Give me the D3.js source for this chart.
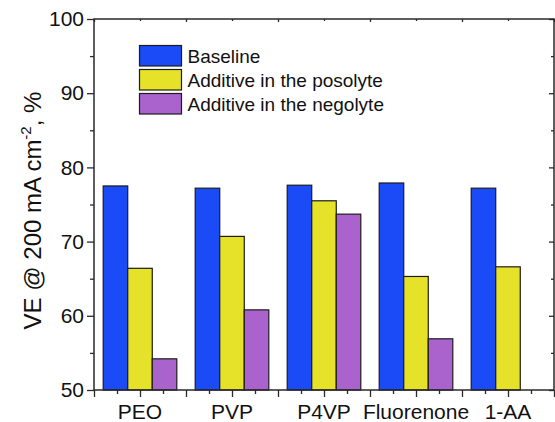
<!DOCTYPE html>
<html>
<head>
<meta charset="utf-8">
<script src="https://cdn.jsdelivr.net/npm/d3@7"></script>
<style>
  html, body { margin: 0; padding: 0; background: #fff; }
  svg { display: block; font-family: Arial, "Liberation Sans", sans-serif; }
</style>
</head>
<body>
<svg id="chart" width="555" height="422"></svg>
<script>
// Voltage efficiency at 200 mA cm-2 for each additive
const categories = ["PEO", "PVP", "P4VP", "Fluorenone", "1-AA"];
const seriesNames = ["Baseline", "Additive in the posolyte", "Additive in the negolyte"];
const baseline = [77.5, 77.2, 77.6, 77.9, 77.2];
const posolyte = [66.4, 70.7, 75.5, 65.3, 66.6];
const negolyte = [54.2, 60.8, 73.7, 56.9, null];
const yTicks = [50, 60, 70, 80, 90, 100];
const colors = ["#1a4bf6", "#e6e22a", "#aa63cc"];

const series = [baseline, posolyte, negolyte];

const svg = d3.select("#chart");
const plot = { left: 94, right: 554, top: 19, bottom: 390 };

const x = d3.scaleBand()
  .domain(categories)
  .range([plot.left, plot.right])
  .paddingInner(0.2)
  .paddingOuter(0.1);

const xs = d3.scaleBand()
  .domain(d3.range(series.length))
  .range([0, x.bandwidth()]);

// continuous position along the category axis, used for the tick marks
const xPos = d3.scaleLinear().domain([0.5, categories.length + 0.5]).range([plot.left, plot.right]);

const y = d3.scaleLinear().domain([50, 100]).range([plot.bottom, plot.top]);

// bars
const rows = [];
categories.forEach((c, i) => {
  series.forEach((s, j) => {
    if (s[i] != null) rows.push({ cat: c, k: j, v: s[i] });
  });
});

svg.append("g").selectAll("rect")
  .data(rows)
  .join("rect")
  .attr("x", d => x(d.cat) + xs(d.k))
  .attr("y", d => y(d.v))
  .attr("width", xs.bandwidth())
  .attr("height", d => y(50) - y(d.v))
  .attr("fill", d => colors[d.k])
  .attr("stroke", "#1c1c1c")
  .attr("stroke-width", 1.2);

const axisColor = "#2a2a2a";
function styleAxis(g) {
  g.select(".domain").remove();
  g.selectAll(".tick line").attr("stroke", axisColor).attr("stroke-width", 1.3);
}

// bottom axis: majors at half steps, minors between
const half = d3.range(0.5, categories.length + 0.51, 0.5);
const quarter = d3.range(0.75, categories.length + 0.5, 0.5);
svg.append("g").attr("transform", `translate(0,${plot.bottom})`)
  .call(d3.axisBottom(xPos).tickValues(half).tickSize(7).tickFormat(""))
  .call(styleAxis);
svg.append("g").attr("transform", `translate(0,${plot.bottom})`)
  .call(d3.axisBottom(xPos).tickValues(quarter).tickSize(4).tickFormat(""))
  .call(styleAxis);

// top axis: inward ticks
svg.append("g").attr("transform", `translate(0,${plot.top})`)
  .call(d3.axisTop(xPos).tickValues(half.filter(v => v % 1 !== 0)).tickSize(-3).tickFormat(""))
  .call(styleAxis);
svg.append("g").attr("transform", `translate(0,${plot.top})`)
  .call(d3.axisTop(xPos).tickValues(d3.range(1, categories.length + 1)).tickSize(-2).tickFormat(""))
  .call(styleAxis);

// category labels
svg.append("g").attr("transform", `translate(0,${plot.bottom})`)
  .call(d3.axisBottom(x).tickSize(0).tickPadding(14))
  .call(g => g.select(".domain").remove())
  .call(g => g.selectAll("text").attr("font-size", 21).attr("font-family", "Arial, 'Liberation Sans', sans-serif").attr("fill", "#111"));

// left axis
const yMinor = d3.range(55, 100, 10);
svg.append("g").attr("transform", `translate(${plot.left},0)`)
  .call(d3.axisLeft(y).tickValues(yTicks).tickSize(7).tickPadding(3))
  .call(styleAxis)
  .call(g => g.selectAll("text").attr("font-size", 21).attr("font-family", "Arial, 'Liberation Sans', sans-serif").attr("fill", "#111"));
svg.append("g").attr("transform", `translate(${plot.left},0)`)
  .call(d3.axisLeft(y).tickValues(yMinor).tickSize(4).tickFormat(""))
  .call(styleAxis);

// right axis: inward ticks
svg.append("g").attr("transform", `translate(${plot.right},0)`)
  .call(d3.axisRight(y).tickValues(yTicks).tickSize(-5).tickFormat(""))
  .call(styleAxis);
svg.append("g").attr("transform", `translate(${plot.right},0)`)
  .call(d3.axisRight(y).tickValues(yMinor).tickSize(-3).tickFormat(""))
  .call(styleAxis);

// frame
svg.append("rect")
  .attr("x", plot.left).attr("y", plot.top)
  .attr("width", plot.right - plot.left).attr("height", plot.bottom - plot.top)
  .attr("fill", "none").attr("stroke", axisColor).attr("stroke-width", 1.5);

// y title
const yTitle = svg.append("text")
  .attr("transform", `translate(41,${(plot.top + plot.bottom) / 2 + 6}) rotate(-90)`)
  .attr("text-anchor", "middle")
  .attr("font-size", 24)
  .attr("fill", "#111");
yTitle.append("tspan").text("VE @ 200 mA cm");
yTitle.append("tspan").attr("dy", -10).attr("font-size", 15).text("-2");
yTitle.append("tspan").attr("dy", 10).text(", %");

// legend
const legend = svg.append("g").attr("transform", "translate(139.5,45.5)");
seriesNames.forEach((name, i) => {
  const row = legend.append("g").attr("transform", `translate(0,${i * 24})`);
  row.append("rect")
    .attr("width", 42).attr("height", 20.5)
    .attr("fill", colors[i]).attr("stroke", "#1c1c1c").attr("stroke-width", 1.2);
  row.append("text")
    .attr("x", 48).attr("y", 17.5)
    .attr("font-size", 19).attr("fill", "#111")
    .text(name);
});
</script>
</body>
</html>
